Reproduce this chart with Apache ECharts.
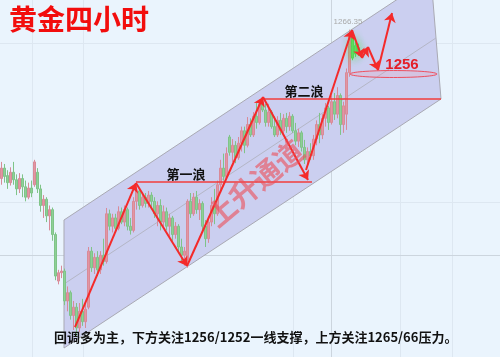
<!DOCTYPE html>
<html><head><meta charset="utf-8">
<script src="https://cdn.jsdelivr.net/npm/echarts/dist/echarts.min.js"></script>
<style>html,body{margin:0;padding:0;background:#eaf4fd;}#c{width:500px;height:357px;}</style>
</head><body><div id="c"></div>
<script>
// ---- candle data (4h gold) ----
const opens = [1230.5,1233.0,1231.2,1229.5,1232.0,1230.2,1228.0,1230.5,1228.5,1226.0,1228.2,1229.0,1232.0,1228.0,1224.0,1225.5,1221.5,1223.0,1217.0,1205.8,
1207.8,1208.2,1201.0,1203.0,1197.5,1199.5,1194.5,1198.5,1196.0,1199.5,1213.0,1209.0,1211.5,1208.5,1212.0,1210.5,1222.0,1219.0,1221.0,1218.5,
1222.5,1220.0,1223.0,1219.0,1218.0,1225.0,1227.5,1224.0,1226.0,1224.5,1226.5,1225.0,1222.0,1224.0,1220.0,1222.5,1219.0,1221.0,1217.0,1219.0,
1214.0,1212.0,1211.0,1225.0,1222.0,1226.0,1223.0,1224.5,1219.0,1216.0,1220.0,1224.0,1222.0,1229.0,1233.0,1231.0,1240.5,1236.8,1238.5,1235.5,
1239.0,1242.0,1238.5,1243.5,1241.0,1245.5,1244.0,1248.5,1247.0,1244.0,1246.5,1243.0,1241.0,1244.5,1242.0,1245.0,1243.0,1245.5,1242.0,1239.5,
1241.5,1238.0,1235.0,1237.0,1236.0,1240.0,1243.5,1241.0,1245.0,1247.5,1244.0,1249.0,1246.0,1250.5,1243.5,1246.0,1256.0,1264.5,1262.5,1262.0];
const closes = [1233.0,1231.0,1229.5,1232.0,1230.2,1228.0,1230.5,1228.5,1226.0,1228.2,1227.0,1234.5,1228.0,1224.0,1225.5,1221.5,1223.0,1217.0,1207.0,1207.8,
1208.2,1201.0,1203.0,1197.5,1199.5,1194.5,1198.5,1196.0,1199.0,1213.0,1209.0,1211.5,1208.5,1212.0,1210.5,1222.0,1219.0,1221.0,1218.5,1222.5,
1220.0,1223.0,1219.0,1218.0,1225.0,1227.5,1224.0,1226.0,1224.5,1226.5,1225.0,1222.0,1224.0,1220.0,1222.5,1219.0,1221.0,1217.0,1219.0,1214.0,
1212.0,1213.0,1225.0,1222.0,1226.0,1223.0,1224.5,1219.0,1216.0,1220.0,1224.0,1222.0,1229.0,1233.0,1231.0,1236.5,1236.8,1238.5,1235.5,1239.0,
1242.0,1238.5,1243.5,1241.0,1245.5,1244.0,1248.5,1247.0,1244.0,1246.5,1243.0,1241.0,1244.5,1242.0,1245.0,1243.0,1245.5,1242.0,1239.5,1241.5,
1238.0,1235.0,1237.0,1236.0,1240.0,1243.5,1241.0,1245.0,1247.5,1244.0,1249.0,1246.0,1250.5,1243.5,1248.0,1256.0,1265.0,1259.5,1260.5,1261.0];
const lows = [1229.0,1229.5,1228.0,1228.8,1229.0,1226.5,1227.0,1226.0,1225.0,1225.5,1226.0,1228.5,1227.0,1222.5,1221.0,1220.0,1218.0,1215.5,1206.0,1205.0,
1206.5,1200.0,1198.5,1196.5,1194.0,1192.3,1193.5,1195.0,1194.5,1199.0,1208.0,1207.5,1207.0,1207.5,1209.5,1210.0,1218.0,1217.5,1217.5,1218.0,
1219.5,1219.0,1218.0,1217.0,1217.5,1223.0,1223.0,1223.5,1223.5,1223.5,1223.5,1221.0,1219.0,1218.0,1219.0,1218.0,1216.5,1215.5,1216.0,1213.0,
1210.5,1209.5,1209.0,1221.0,1221.5,1222.0,1220.5,1218.0,1214.0,1215.0,1219.0,1219.5,1221.5,1227.0,1230.0,1230.5,1236.0,1234.5,1234.2,1235.0,
1237.0,1236.6,1238.0,1240.5,1240.5,1242.5,1243.5,1246.5,1243.0,1243.0,1242.5,1240.5,1240.5,1241.0,1241.5,1241.5,1242.0,1241.5,1238.5,1238.1,
1237.0,1234.0,1233.3,1235.0,1235.0,1238.5,1239.0,1240.0,1243.0,1242.2,1243.5,1244.6,1245.0,1241.0,1241.5,1242.2,1255.0,1259.0,1259.8,1260.0];
const highs = [1234.5,1234.0,1232.5,1233.2,1234.5,1231.5,1231.8,1231.5,1230.0,1229.5,1230.0,1235.0,1233.0,1229.0,1226.5,1226.0,1224.0,1223.5,1217.5,1208.5,
1209.5,1208.8,1204.5,1203.5,1201.0,1200.5,1200.5,1201.5,1201.0,1214.0,1214.0,1212.5,1213.0,1213.0,1216.0,1223.4,1223.0,1222.0,1222.0,1223.8,
1223.5,1224.0,1223.5,1221.0,1226.0,1229.0,1228.0,1227.0,1227.0,1227.5,1227.2,1226.0,1225.0,1225.5,1224.0,1223.5,1222.0,1221.5,1220.0,1219.5,
1216.0,1214.0,1225.5,1227.0,1227.0,1227.5,1225.5,1225.0,1220.5,1221.0,1226.0,1228.0,1230.0,1235.0,1236.5,1238.0,1241.0,1240.0,1239.5,1240.5,
1243.0,1243.0,1245.3,1245.0,1246.5,1248.7,1249.5,1250.0,1248.5,1248.5,1247.0,1245.5,1245.5,1246.3,1246.0,1246.3,1246.5,1246.0,1243.9,1242.5,
1242.0,1239.8,1238.0,1239.0,1241.0,1244.5,1246.3,1246.0,1248.7,1248.0,1250.5,1251.1,1252.5,1251.0,1249.0,1257.0,1266.35,1265.0,1263.5,1263.0];

// ---- channel (x in candle index units, y in price) ----
const channelX = [21.33, 21.33, 143.67, 147.0];
const channelY = [1189.66, 1220.5, 1279.04, 1249.65];
const channelMidX = [21.33, 145.33];
const channelMidY = [1205.08, 1264.35];

// ---- wave arrows ----
const arrowFromX = [25.0, 45.33, 62.33, 87.67, 102.0, 117.33, 120.67, 122.67, 126.0];
const arrowFromY = [1194.72, 1229.41, 1209.42, 1250.13, 1232.55, 1266.27, 1259.53, 1262.18, 1256.64];
const arrowToX   = [45.33, 62.33, 87.67, 102.67, 117.33, 120.67, 122.67, 126.0, 130.67];
const arrowToY   = [1229.41, 1209.42, 1250.13, 1230.14, 1266.27, 1259.53, 1262.18, 1256.64, 1270.37];

// ---- horizontal levels ----
const levelFromX = [45.33, 87.67];
const levelToX = [104.0, 147.0];
const levelY = [1229.65, 1249.65];

// ---- 1256 ellipse ----
const ellipseCenter = [131.17, 1255.67];
const ellipseRadius = [14.5, 0.84];

// ---- labels ----
const wave1Text = '第一浪', wave1Pos = [62.0, 1231.58];
const wave2Text = '第二浪', wave2Pos = [101.33, 1251.58];
const supportText = '1256', supportPos = [134.0, 1257.84];
const peakText = '1266.35', peakPos = [116.0, 1268.2];
const channelText = '上升通道', channelTextPos = [85.0, 1229.41];
const titleText = '黄金四小时';
const noteText = '回调多为主，下方关注1256/1252一线支撑，上方关注1265/66压力。';

// ---- faint grid ----
const gridVX = [10.67, 27.67, 97.67, 133.33, 150.67];
const gridHY = [1263.14, 1224.84];
const crossX = 110.33, crossY = 1212.07;

const X_MAX = 500/3, Y_MIN = 1187.5, Y_MAX = 1273.5;
const CJK = '"Noto Sans CJK SC", "Noto Sans", sans-serif';

const candleData = opens.map((o, i) => {
  const item = { value: [i + 0.5, o, closes[i], lows[i], highs[i]] };
  if (i >= 117) item.itemStyle = { color0: '#62dc62', borderColor0: '#55d455', shadowBlur: 8, shadowColor: 'rgba(90,230,90,0.9)' };
  return item;
});

function seg(x1, y1, x2, y2) { return { coords: [[x1, y1], [x2, y2]] }; }

function textSeries(text, pos, style, rotDeg, z) {
  return {
    type: 'custom', z: z || 20, silent: true, data: [pos],
    renderItem: (p, api) => {
      const c = api.coord([api.value(0), api.value(1)]);
      return { type: 'text', x: c[0], y: c[1], rotation: (rotDeg || 0) * Math.PI / 180,
        style: Object.assign({ text: text, align: 'center', verticalAlign: 'middle' }, style) };
    }
  };
}

const chart = echarts.init(document.getElementById('c'), null, { renderer: 'canvas' });
chart.setOption({
  backgroundColor: '#eaf4fd',
  animation: false,
  grid: { left: 0, right: 0, top: 0, bottom: 0 },
  xAxis: { type: 'value', min: 0, max: X_MAX, show: false },
  yAxis: { type: 'value', min: Y_MIN, max: Y_MAX, show: false },
  graphic: [
    { type: 'text', left: 9, top: 5, z: 100, style: { text: titleText, fill: '#f20d0d', font: 'bold 28px ' + CJK } },
    { type: 'text', left: 54, top: 331, z: 100, style: { text: noteText, fill: '#111', font: 'bold 13px ' + CJK } }
  ],
  series: [
    { type: 'lines', coordinateSystem: 'cartesian2d', z: 1, silent: true,
      lineStyle: { color: '#dde7f1', width: 1, opacity: 1 },
      data: gridVX.map(x => seg(x, Y_MIN, x, Y_MAX)).concat(gridHY.map(y => seg(0, y, X_MAX, y))) },
    { type: 'lines', coordinateSystem: 'cartesian2d', z: 1, silent: true,
      lineStyle: { color: '#ccd5de', width: 1, opacity: 1 },
      data: [seg(crossX, Y_MIN, crossX, Y_MAX), seg(0, crossY, X_MAX, crossY)] },
    { type: 'custom', z: 2, silent: true, data: [0],
      renderItem: (p, api) => ({
        type: 'polygon',
        shape: { points: channelX.map((x, i) => api.coord([x, channelY[i]])) },
        style: { fill: '#cbcff0', stroke: '#a9a9b3', lineWidth: 1 }
      }) },
    { type: 'lines', coordinateSystem: 'cartesian2d', z: 3, silent: true,
      lineStyle: { color: '#b4b6c6', width: 1, opacity: 1 },
      data: [seg(channelMidX[0], channelMidY[0], channelMidX[1], channelMidY[1])] },
    { type: 'candlestick', z: 4, barWidth: 2, silent: true,
      itemStyle: { color: '#e296a3', color0: '#8fcf97', borderColor: '#d98a98', borderColor0: '#7fc488', borderWidth: 1 },
      data: candleData },
    { type: 'custom', z: 5, silent: true, data: [ellipseCenter],
      renderItem: (p, api) => {
        const c = api.coord([api.value(0), api.value(1)]);
        const e = api.coord([api.value(0) + ellipseRadius[0], api.value(1) + ellipseRadius[1]]);
        const rx = e[0] - c[0], ry = c[1] - e[1];
        const pts = [];
        for (let t = 0; t < 64; t++) { const a = t / 64 * Math.PI * 2; pts.push([c[0] + rx * Math.cos(a), c[1] + ry * Math.sin(a)]); }
        return { type: 'polygon', shape: { points: pts }, style: { fill: 'rgba(255,150,160,0.18)', stroke: '#ee5060', lineWidth: 1 } };
      } },
    { type: 'lines', coordinateSystem: 'cartesian2d', z: 6, silent: true,
      lineStyle: { color: '#f23c3c', width: 1.6, opacity: 1 },
      data: levelY.map((y, i) => seg(levelFromX[i], y, levelToX[i], y)) },
    { type: 'lines', coordinateSystem: 'cartesian2d', z: 7, silent: true,
      symbol: ['none', 'arrow'], symbolSize: 9,
      lineStyle: { color: '#f42a2a', width: 2, opacity: 1 },
      data: arrowFromX.map((x, i) => seg(x, arrowFromY[i], arrowToX[i], arrowToY[i])) },
    textSeries(channelText, channelTextPos, { fill: 'rgba(236,76,86,0.6)', font: 'bold 29px ' + CJK }, 40, 8),
    textSeries(wave1Text, wave1Pos, { fill: '#111', font: 'bold 13px ' + CJK }),
    textSeries(wave2Text, wave2Pos, { fill: '#111', font: 'bold 13px ' + CJK }),
    textSeries(supportText, supportPos, { fill: '#e41e28', font: 'bold 15px "Liberation Sans", Arial, sans-serif' }),
    textSeries(peakText, peakPos, { fill: '#a9a9a9', font: '8px "Liberation Sans", Arial, sans-serif' })
  ]
});
</script>
</body></html>
